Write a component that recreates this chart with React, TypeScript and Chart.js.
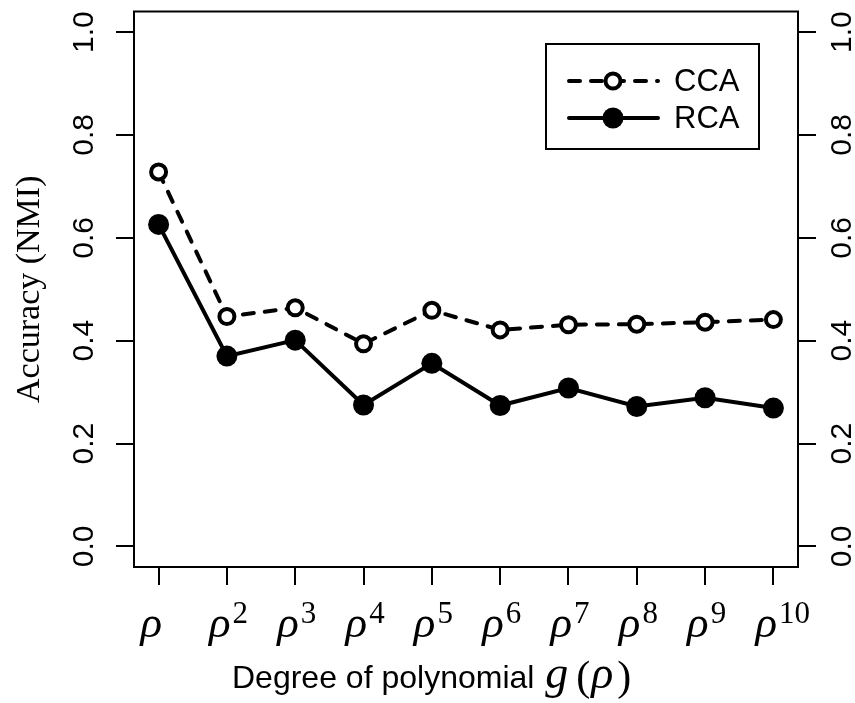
import React, { useEffect, useRef } from "react";
import { Chart, registerables } from "chart.js";

Chart.register(...registerables);

// Polynomial degree of g(ρ): tick labels are ρ raised to these exponents
const symbolBase = "ρ";
const exponents = ["", "2", "3", "4", "5", "6", "7", "8", "9", "10"];
const degrees = [1, 2, 3, 4, 5, 6, 7, 8, 9, 10];

// Accuracy (NMI) per method
const ccaValues = [0.728, 0.447, 0.464, 0.394, 0.459, 0.421, 0.431, 0.432, 0.436, 0.441];
const rcaValues = [0.626, 0.370, 0.401, 0.275, 0.356, 0.274, 0.308, 0.272, 0.289, 0.269];

const seriesNames = ["CCA", "RCA"];
const yTickValues = [0, 0.2, 0.4, 0.6, 0.8, 1.0];

const yTitle = "Accuracy (NMI)";
const xTitle = "Degree of polynomial";

const SANS = '"Liberation Sans", Arial, sans-serif';
const SERIF = '"Liberation Serif", "Times New Roman", serif';

const decorPlugin = {
  id: "rDecor",
  afterDraw(chart: any) {
    const { ctx, chartArea: a, scales } = chart;
    const xs = scales.x;
    const ys = scales.y;
    ctx.save();

    // plot frame
    ctx.strokeStyle = "#000";
    ctx.lineWidth = 2;
    ctx.strokeRect(a.left, a.top, a.right - a.left, a.bottom - a.top);

    // rotated y tick labels, both sides
    ctx.fillStyle = "#000";
    ctx.font = `30px ${SANS}`;
    ctx.textAlign = "center";
    ctx.textBaseline = "middle";
    for (const v of yTickValues) {
      const py = ys.getPixelForValue(v);
      for (const px of [a.left - 49, a.right + 45]) {
        ctx.save();
        ctx.translate(px, py);
        ctx.rotate(-Math.PI / 2);
        ctx.fillText(v.toFixed(1), 0, 0);
        ctx.restore();
      }
    }

    // y title
    ctx.save();
    ctx.font = `34px ${SERIF}`;
    ctx.translate(30, (a.top + a.bottom) / 2);
    ctx.rotate(-Math.PI / 2);
    ctx.fillText(yTitle, 0, 0);
    ctx.restore();

    // x tick labels: ρ with superscript exponent
    ctx.textAlign = "left";
    ctx.textBaseline = "alphabetic";
    degrees.forEach((d, i) => {
      const px = xs.getPixelForValue(d);
      const x0 = px - 18;
      ctx.font = `italic 45px ${SERIF}`;
      ctx.fillText(symbolBase, x0, a.bottom + 70);
      const w = ctx.measureText(symbolBase).width;
      if (exponents[i]) {
        ctx.font = `31px ${SERIF}`;
        ctx.fillText(exponents[i], x0 + w + 2, a.bottom + 56);
      }
    });

    // x title with g(ρ)
    const tx = a.left + 98;
    const ty = a.bottom + 121;
    ctx.font = `32px ${SANS}`;
    ctx.fillText(xTitle, tx, ty);
    const tw = ctx.measureText(xTitle + " ").width;
    let gx = tx + tw + 2;
    ctx.font = `italic 46px ${SERIF}`;
    ctx.fillText("g", gx, ty);
    gx += ctx.measureText("g").width + 8;
    ctx.font = `42px ${SERIF}`;
    ctx.fillText("(", gx, ty + 2);
    gx += ctx.measureText("(").width + 1;
    ctx.font = `italic 46px ${SERIF}`;
    ctx.fillText(symbolBase, gx, ty);
    gx += ctx.measureText(symbolBase).width + 4;
    ctx.font = `42px ${SERIF}`;
    ctx.fillText(")", gx, ty + 2);

    // legend box
    const lx = 546, ly = 44, lw = 213, lh = 105;
    ctx.fillStyle = "#fff";
    ctx.fillRect(lx, ly, lw, lh);
    ctx.strokeStyle = "#000";
    ctx.lineWidth = 2;
    ctx.strokeRect(lx, ly, lw, lh);

    const datasets = chart.data.datasets;
    const rows = [81, 118];
    rows.forEach((ry, k) => {
      const ds = datasets[k];
      ctx.save();
      ctx.lineWidth = ds.borderWidth;
      ctx.lineCap = "round";
      ctx.setLineDash(ds.borderDash || []);
      ctx.strokeStyle = "#000";
      ctx.beginPath();
      ctx.moveTo(569, ry);
      ctx.lineTo(658, ry);
      ctx.stroke();
      ctx.setLineDash([]);
      ctx.beginPath();
      ctx.arc(613, ry, ds.pointRadius, 0, Math.PI * 2);
      ctx.fillStyle = ds.pointBackgroundColor;
      ctx.fill();
      if (ds.pointBorderWidth > 0) {
        ctx.lineWidth = ds.pointBorderWidth;
        ctx.stroke();
      }
      ctx.restore();
      ctx.fillStyle = "#000";
      ctx.font = `31px ${SANS}`;
      ctx.textAlign = "left";
      ctx.textBaseline = "middle";
      ctx.fillText(seriesNames[k], 674, ry + 1);
    });

    ctx.restore();
  },
};

export default function App() {
  const canvasRef = useRef<HTMLCanvasElement | null>(null);

  useEffect(() => {
    const canvas = canvasRef.current;
    if (!canvas) return;

    const axisCommon = {
      grid: {
        display: true,
        drawOnChartArea: false,
        drawTicks: true,
        tickLength: 18,
        color: "#000",
        lineWidth: 2,
      },
      border: { display: true, color: "#000", width: 2 },
      ticks: { display: false },
    };

    const chart = new Chart(canvas, {
      type: "line",
      data: {
        datasets: [
          {
            label: seriesNames[0],
            data: degrees.map((d, i) => ({ x: d, y: ccaValues[i] })),
            borderColor: "#000",
            borderWidth: 4,
            borderDash: [11, 11],
            borderCapStyle: "round",
            pointRadius: 7.5,
            pointBorderWidth: 4,
            pointBackgroundColor: "#fff",
            pointBorderColor: "#000",
            tension: 0,
          },
          {
            label: seriesNames[1],
            data: degrees.map((d, i) => ({ x: d, y: rcaValues[i] })),
            borderColor: "#000",
            borderWidth: 4,
            borderCapStyle: "round",
            pointRadius: 10.5,
            pointBorderWidth: 0,
            pointBackgroundColor: "#000",
            pointBorderColor: "#000",
            tension: 0,
          },
        ],
      },
      options: {
        responsive: false,
        animation: false,
        devicePixelRatio: 1,
        layout: { padding: { top: 7, left: 0, right: 0, bottom: 0 } },
        plugins: { legend: { display: false }, tooltip: { enabled: false } },
        scales: {
          x: {
            type: "linear",
            position: "bottom",
            min: 0.64,
            max: 10.36,
            ...axisCommon,
            afterBuildTicks: (s: any) => {
              s.ticks = degrees.map((v) => ({ value: v }));
            },
            afterFit: (s: any) => {
              s.height = 136;
            },
          },
          y: {
            type: "linear",
            position: "left",
            min: -0.04,
            max: 1.04,
            ...axisCommon,
            afterBuildTicks: (s: any) => {
              s.ticks = yTickValues.map((v) => ({ value: v }));
            },
            afterFit: (s: any) => {
              s.width = 134;
            },
          },
          y2: {
            type: "linear",
            position: "right",
            min: -0.04,
            max: 1.04,
            ...axisCommon,
            afterBuildTicks: (s: any) => {
              s.ticks = yTickValues.map((v) => ({ value: v }));
            },
            afterFit: (s: any) => {
              s.width = 57;
            },
          },
        },
      },
      plugins: [decorPlugin],
    } as any);

    return () => chart.destroy();
  }, []);

  return (
    <div style={{ position: "absolute", left: 0, top: 0, width: 855, height: 703, background: "#fff" }}>
      <canvas ref={canvasRef} width={855} height={703} />
    </div>
  );
}
